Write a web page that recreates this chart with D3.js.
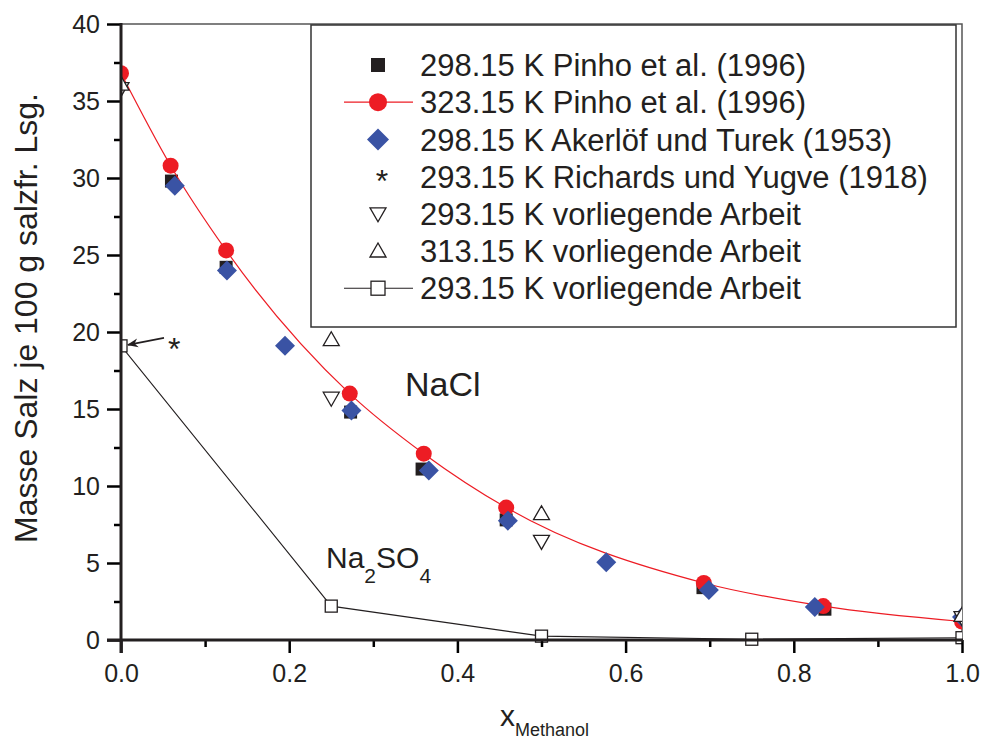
<!DOCTYPE html>
<html>
<head>
<meta charset="utf-8">
<script src="https://cdn.jsdelivr.net/npm/d3@7.9.0/dist/d3.min.js"></script>
<style>
  body { margin: 0; background: #fff; }
  svg { font-family: "Liberation Sans", Arial, sans-serif; }
</style>
</head>
<body>
<svg id="chart" width="982" height="740"></svg>
<script>
// NaCl, 298.15 K Pinho et al. (1996)
const pinho298 = [
  [0.060, 29.8], [0.125, 24.2], [0.273, 14.8], [0.358, 11.1],
  [0.458, 7.8], [0.692, 3.4], [0.837, 2.0]
];
// NaCl, 323.15 K Pinho et al. (1996)
const pinho323 = [
  [0.0, 36.8], [0.059, 30.8], [0.125, 25.3], [0.272, 16.0], [0.360, 12.1],
  [0.458, 8.6], [0.693, 3.7], [0.835, 2.2], [1.0, 1.2]
];
// NaCl, 298.15 K Akerlöf und Turek (1953)
const akerlof = [
  [0.064, 29.5], [0.126, 24.0], [0.195, 19.1], [0.274, 14.9], [0.366, 11.0],
  [0.460, 7.75], [0.577, 5.05], [0.699, 3.25], [0.825, 2.15], [1.0, 1.5]
];
// NaCl, 293.15 K vorliegende Arbeit
const own293 = [[0.0, 35.8], [0.25, 15.7], [0.5, 6.4], [1.0, 1.45]];
// NaCl, 313.15 K vorliegende Arbeit
const own313 = [[0.0, 36.1], [0.25, 19.5], [0.5, 8.2], [1.0, 1.6]];
// Na2SO4, 293.15 K vorliegende Arbeit
const na2so4 = [[0.0, 19.1], [0.25, 2.2], [0.5, 0.25], [0.75, 0.05], [1.0, 0.15]];
// Na2SO4, 293.15 K Richards und Yugve (1918) -> annotated with arrow
const richards = [[0.0, 19.1]];

const xTicks = [0.0, 0.2, 0.4, 0.6, 0.8, 1.0];
const yTicks = [0, 5, 10, 15, 20, 25, 30, 35, 40];

const legendLabels = [
  "298.15 K Pinho et al. (1996)",
  "323.15 K Pinho et al. (1996)",
  "298.15 K Akerlöf und Turek (1953)",
  "293.15 K Richards und Yugve (1918)",
  "293.15 K vorliegende Arbeit",
  "313.15 K vorliegende Arbeit",
  "293.15 K vorliegende Arbeit"
];

const RED = "#ed1c24", BLUE = "#3a53a4", BLACK = "#231f20";

const svg = d3.select("#chart");
const width = 982, height = 740;
const margin = { top: 24, right: 20, bottom: 100, left: 121 };

const x = d3.scaleLinear().domain([0, 1]).range([margin.left, width - margin.right]);
const y = d3.scaleLinear().domain([0, 40]).range([height - margin.bottom, margin.top]);

svg.append("defs").append("clipPath").attr("id", "clip")
  .append("rect")
  .attr("x", x(0)).attr("y", y(40))
  .attr("width", x(1) - x(0)).attr("height", y(0) - y(40) + 20);

// frame (top / right)
svg.append("path")
  .attr("d", `M${x(0)},${y(40)}H${x(1)}V${y(0)}`)
  .attr("fill", "none").attr("stroke", "#555").attr("stroke-width", 1.5);

const plot = svg.append("g").attr("clip-path", "url(#clip)");

const triDown = "M-8,-6L8,-6L0,8Z";
const triUp = "M-8,6L8,6L0,-8Z";

// black squares
plot.append("g").selectAll("rect").data(pinho298).join("rect")
  .attr("x", d => x(d[0]) - 6.5).attr("y", d => y(d[1]) - 6.5)
  .attr("width", 13).attr("height", 13).attr("fill", BLACK);

// red line + circles
const line = d3.line().x(d => x(d[0])).y(d => y(d[1]));
const smooth = d3.line().x(d => x(d[0])).y(d => y(d[1])).curve(d3.curveMonotoneX);
plot.append("path").datum(pinho323).attr("d", smooth)
  .attr("fill", "none").attr("stroke", RED).attr("stroke-width", 1.2);
plot.append("g").selectAll("circle").data(pinho323).join("circle")
  .attr("cx", d => x(d[0])).attr("cy", d => y(d[1])).attr("r", 8).attr("fill", RED);

// blue diamonds
plot.append("g").selectAll("path").data(akerlof).join("path")
  .attr("transform", d => `translate(${x(d[0])},${y(d[1])})`)
  .attr("d", "M0,-10L10,0L0,10L-10,0Z").attr("fill", BLUE);

// triangles
plot.append("g").selectAll("path").data(own293).join("path")
  .attr("transform", d => `translate(${x(d[0])},${y(d[1])})`)
  .attr("d", triDown).attr("fill", "#fff").attr("stroke", BLACK).attr("stroke-width", 1.3);
plot.append("g").selectAll("path").data(own313).join("path")
  .attr("transform", d => `translate(${x(d[0])},${y(d[1])})`)
  .attr("d", triUp).attr("fill", "#fff").attr("stroke", BLACK).attr("stroke-width", 1.3);

// Na2SO4 line + open squares
plot.append("path").datum(na2so4).attr("d", line)
  .attr("fill", "none").attr("stroke", BLACK).attr("stroke-width", 1.1);
plot.append("g").selectAll("rect").data(na2so4).join("rect")
  .attr("x", d => x(d[0]) - 6).attr("y", d => y(d[1]) - 6)
  .attr("width", 12).attr("height", 12)
  .attr("fill", "#fff").attr("stroke", BLACK).attr("stroke-width", 1.3);

// Richards star with arrow pointing to the point
svg.append("defs").append("marker")
  .attr("id", "arrow").attr("viewBox", "0 0 10 10").attr("refX", 9).attr("refY", 5)
  .attr("markerWidth", 10).attr("markerHeight", 7).attr("orient", "auto")
  .append("path").attr("d", "M0,1L10,5L0,9L3,5Z").attr("fill", BLACK);
richards.forEach(d => {
  const px = x(d[0]), py = y(d[1]);
  svg.append("line")
    .attr("x1", px + 43).attr("y1", py - 8)
    .attr("x2", px + 7).attr("y2", py - 1)
    .attr("stroke", BLACK).attr("stroke-width", 1.6)
    .attr("marker-end", "url(#arrow)");
  svg.append("text")
    .attr("x", px + 47).attr("y", py + 14)
    .style("font-size", "32px").attr("fill", BLACK)
    .text("*");
});

// axes
const xAxis = svg.append("g").attr("transform", `translate(0,${y(0)})`);
xAxis.call(d3.axisBottom(x).tickValues(d3.range(0, 1.01, 0.1)).tickSize(8).tickFormat(""));
xAxis.call(g => g.select(".domain").remove());
xAxis.selectAll(".tick line").attr("stroke-width", 2.5)
  .attr("y2", (d, i) => i % 2 === 0 ? 13 : 7);
xAxis.selectAll(".tick").filter(d => xTicks.some(t => Math.abs(t - d) < 1e-6)).append("text")
  .attr("y", 42).attr("fill", BLACK).attr("text-anchor", "middle")
  .style("font-size", "25px")
  .text(d => d3.format(".1f")(d));

const yAxis = svg.append("g").attr("transform", `translate(${x(0)},0)`);
yAxis.call(d3.axisLeft(y).tickValues(d3.range(0, 40.1, 2.5)).tickFormat(""));
yAxis.call(g => g.select(".domain").remove());
yAxis.selectAll(".tick line").attr("stroke-width", 2.5)
  .attr("x2", (d, i) => i % 2 === 0 ? -14 : -7);
yAxis.selectAll(".tick").filter(d => yTicks.includes(d)).append("text")
  .attr("x", -21).attr("dy", "0.35em").attr("fill", BLACK).attr("text-anchor", "end")
  .style("font-size", "25px")
  .text(d => d);

svg.append("line")
  .attr("x1", x(0) - 14).attr("x2", x(1) + 1).attr("y1", y(0)).attr("y2", y(0))
  .attr("stroke", BLACK).attr("stroke-width", 3);
svg.append("line")
  .attr("x1", x(0)).attr("x2", x(0)).attr("y1", y(40) - 1).attr("y2", y(0) + 13)
  .attr("stroke", BLACK).attr("stroke-width", 3);

// axis labels
svg.append("text")
  .attr("transform", "rotate(-90)")
  .attr("x", -318).attr("y", 37)
  .attr("text-anchor", "middle").attr("fill", BLACK)
  .style("font-size", "32px")
  .text("Masse Salz je 100 g salzfr. Lsg.");

const xl = svg.append("text").attr("x", 500).attr("y", 726).attr("fill", BLACK)
  .style("font-size", "30px");
xl.append("tspan").text("x");
xl.append("tspan").attr("dy", 10).style("font-size", "18px").text("Methanol");

// species labels
svg.append("text").attr("x", 405).attr("y", 396).attr("fill", BLACK)
  .style("font-size", "34px").text("NaCl");
const na = svg.append("text").attr("x", 326).attr("y", 568).attr("fill", BLACK)
  .style("font-size", "30px");
na.append("tspan").text("Na");
na.append("tspan").attr("dy", 15).style("font-size", "21px").text("2");
na.append("tspan").attr("dy", -15).text("SO");
na.append("tspan").attr("dy", 15).style("font-size", "21px").text("4");

// legend
const legend = svg.append("g");
legend.append("rect")
  .attr("x", 311).attr("y", 25).attr("width", 645).attr("height", 302)
  .attr("fill", "#fff").attr("stroke", "#333").attr("stroke-width", 1.5);

const rowY = i => 65 + i * 37.2;
const symX = 378;
legendLabels.forEach((label, i) => {
  legend.append("text")
    .attr("x", 420).attr("y", rowY(i)).attr("dy", "0.36em")
    .attr("fill", BLACK).style("font-size", "31px")
    .text(label);
});
// symbols
legend.append("rect").attr("x", symX - 7).attr("y", rowY(0) - 7)
  .attr("width", 14).attr("height", 14).attr("fill", BLACK);
legend.append("line").attr("x1", 344).attr("x2", 413).attr("y1", rowY(1)).attr("y2", rowY(1))
  .attr("stroke", RED).attr("stroke-width", 1.2);
legend.append("circle").attr("cx", symX).attr("cy", rowY(1)).attr("r", 9).attr("fill", RED);
legend.append("path").attr("transform", `translate(${symX},${rowY(2)})`)
  .attr("d", "M0,-11L11,0L0,11L-11,0Z").attr("fill", BLUE);
legend.append("text").attr("x", symX + 4).attr("y", rowY(3) + 15)
  .attr("text-anchor", "middle").attr("fill", BLACK).style("font-size", "32px").text("*");
legend.append("path").attr("transform", `translate(${symX},${rowY(4)})`)
  .attr("d", triDown).attr("fill", "#fff").attr("stroke", BLACK).attr("stroke-width", 1.3);
legend.append("path").attr("transform", `translate(${symX},${rowY(5)})`)
  .attr("d", triUp).attr("fill", "#fff").attr("stroke", BLACK).attr("stroke-width", 1.3);
legend.append("line").attr("x1", 344).attr("x2", 413).attr("y1", rowY(6)).attr("y2", rowY(6))
  .attr("stroke", BLACK).attr("stroke-width", 1.1);
legend.append("rect").attr("x", symX - 7).attr("y", rowY(6) - 7)
  .attr("width", 14).attr("height", 14)
  .attr("fill", "#fff").attr("stroke", BLACK).attr("stroke-width", 1.3);
</script>
</body>
</html>
